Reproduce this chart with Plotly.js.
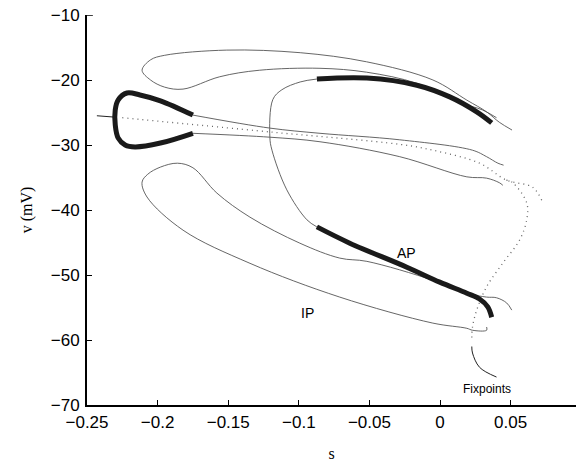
<!DOCTYPE html>
<html>
<head>
<meta charset="utf-8">
<script src="https://cdn.plot.ly/plotly-3.0.1.min.js"></script>
<style>html,body{margin:0;padding:0;background:#fff;}#chart{width:576px;height:464px;}</style>
</head>
<body>
<div id="chart"></div>
<script>
// ---- data (s, v in mV) ----
const leftStubS = [-0.243, -0.231];
const leftStubV = [-25.5, -25.7];

const loopThickS = [-0.175, -0.198, -0.2125, -0.2217, -0.228, -0.230, -0.230, -0.228, -0.223, -0.216, -0.198, -0.175];
const loopThickV = [-25.4, -23.2, -22.3, -22.0, -23.1, -24.6, -26.9, -28.9, -30.0, -30.3, -29.7, -28.2];

const upperMidS = [-0.175, -0.1205, -0.085, -0.0285, 0.023, 0.033, 0.041, 0.045];
const upperMidV = [-25.4, -27.4, -28.2, -29.2, -30.8, -31.8, -32.8, -33.1];

const lowerMidS = [-0.175, -0.1205, -0.085, -0.0285, 0.019, 0.033, 0.042, 0.0445];
const lowerMidV = [-28.2, -28.8, -29.5, -31.8, -34.9, -35.1, -35.8, -36.2];

const dotMainS = [-0.225, -0.12, -0.0285, -0.005, 0.028, 0.047, 0.0656, 0.072];
const dotMainV = [-25.8, -28.0, -29.9, -30.8, -32.8, -35.4, -36.5, -38.5];

const dotFixS = [0.047, 0.0515, 0.0614, 0.0614, 0.0564, 0.0444, 0.033, 0.026, 0.023, 0.0225];
const dotFixV = [-35.4, -35.8, -38.9, -41.5, -44.6, -48.2, -51.8, -55.4, -58.0, -60.0];

const topLoopS = [0.051, 0.042, 0.033, 0.019, -0.005, -0.052, -0.099, -0.151, -0.195, -0.205, -0.211, -0.205, -0.195, -0.182, -0.156, -0.128, -0.085, -0.052, -0.0165, 0.014, 0.030, 0.040];
const topLoopV = [-27.7, -26.5, -24.9, -23.1, -20.0, -17.2, -15.8, -15.4, -16.2, -16.9, -18.5, -20.0, -21.1, -21.4, -19.5, -18.5, -18.2, -18.8, -20.5, -23.5, -24.6, -25.8];

const returnS = [-0.0872, -0.099, -0.112, -0.1184, -0.1205, -0.119, -0.1085, -0.0943, -0.0872];
const returnV = [-19.85, -20.3, -21.5, -23.0, -28.8, -30.8, -36.9, -41.5, -42.6];

const apUpperS = [-0.0872, -0.0518, -0.0164, 0.0069, 0.026, 0.0366];
const apUpperV = [-19.85, -19.7, -20.8, -22.6, -24.9, -26.6];

const apLowerS = [-0.0872, -0.0639, -0.0235, -0.0002, 0.019, 0.028, 0.0338, 0.0366];
const apLowerV = [-42.6, -45.1, -48.8, -51.1, -52.8, -53.7, -54.9, -56.5];

const ipLoopS = [0.0508, 0.0472, 0.040, 0.033, 0.019, -0.0051, -0.0518, -0.071, -0.0993, -0.1346, -0.158, -0.175, -0.186, -0.198, -0.207, -0.211, -0.2075, -0.182, -0.1346, -0.071, -0.0051, 0.019, 0.023, 0.033, 0.033];
const ipLoopV = [-55.4, -54.3, -53.5, -53.4, -52.8, -50.8, -47.9, -47.4, -45.1, -41.1, -37.4, -33.5, -32.8, -33.4, -34.5, -35.7, -38.0, -43.1, -48.2, -53.4, -57.4, -58.2, -58.5, -58.5, -58.0];

const pointerS = [0.0225, 0.023, 0.028, 0.040];
const pointerV = [-61.0, -62.0, -64.2, -65.7];

const xTicks = [-0.25, -0.2, -0.15, -0.1, -0.05, 0, 0.05];
const yTicks = [-70, -60, -50, -40, -30, -20, -10];

const thin = {color: '#555', width: 0.9, shape: 'spline'};
const thick = {color: '#1a1a1a', width: 5, shape: 'spline'};
const dotted = {color: '#666', width: 1.3, dash: '1px,4px', shape: 'spline'};

function tr(x, y, line) {
  return {x: x, y: y, mode: 'lines', type: 'scatter', line: line, hoverinfo: 'skip', showlegend: false};
}

const data = [
  tr(leftStubS, leftStubV, {color: '#222', width: 1}),
  tr(topLoopS, topLoopV, thin),
  tr(upperMidS, upperMidV, thin),
  tr(lowerMidS, lowerMidV, thin),
  tr(returnS, returnV, thin),
  tr(ipLoopS, ipLoopV, thin),
  tr(dotMainS, dotMainV, dotted),
  tr(dotFixS, dotFixV, dotted),
  tr(pointerS, pointerV, {color: '#222', width: 1, shape: 'spline'}),
  tr(loopThickS, loopThickV, thick),
  tr(apUpperS, apUpperV, thick),
  tr(apLowerS, apLowerV, thick)
];

const layout = {
  width: 576, height: 464,
  margin: {l: 87, r: 0, t: 15, b: 59},
  paper_bgcolor: '#fff', plot_bgcolor: '#fff',
  font: {family: 'Liberation Sans, Arial, sans-serif', size: 17, color: '#000'},
  xaxis: {
    range: [-0.25, 0.0963], tickvals: xTicks, ticktext: xTicks.map(v => v === 0 ? '0' : (v < 0 ? '\u2212' + String(-v) : String(v))),
    ticks: 'inside', ticklen: 5, tickwidth: 1, tickcolor: '#000', ticklabelstandoff: 1,
    showgrid: false, zeroline: false, showline: true, linecolor: '#000', linewidth: 2,
    title: {text: 's', font: {family: 'Liberation Serif, Times New Roman, serif', size: 16}, standoff: 16}
  },
  yaxis: {
    range: [-70, -10], tickvals: yTicks, ticktext: yTicks.map(v => '\u2212' + String(-v)),
    ticks: 'inside', ticklen: 5, tickwidth: 1, tickcolor: '#000', ticklabelstandoff: 2,
    showgrid: false, zeroline: false, showline: true, linecolor: '#000', linewidth: 2,
    title: {text: 'v (mV)', font: {family: 'Liberation Serif, Times New Roman, serif', size: 16}, standoff: 14}
  },
  annotations: [
    {x: -0.0235, y: -46.6, text: 'AP', showarrow: false, font: {size: 14, color: '#000'}},
    {x: -0.0936, y: -55.8, text: 'IP', showarrow: false, font: {size: 14, color: '#000'}},
    {x: 0.033, y: -67.6, text: 'Fixpoints', showarrow: false, font: {size: 12, color: '#000'}}
  ],
  shapes: [
    {type: 'line', xref: 'paper', yref: 'y', x0: 0, x1: 0.012, y0: -10, y1: -10, line: {color: '#000', width: 1.5}}
  ]
};

Plotly.newPlot('chart', data, layout, {displayModeBar: false, staticPlot: true});
</script>
</body>
</html>
